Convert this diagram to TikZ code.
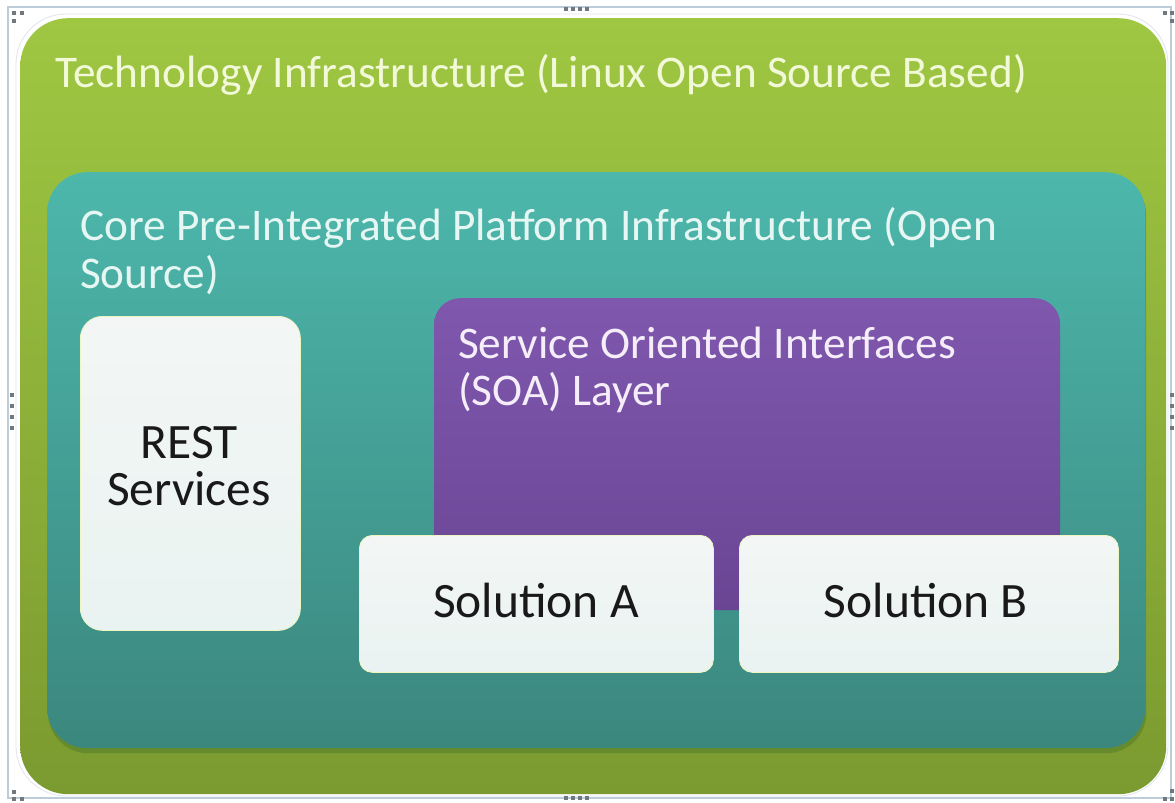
\documentclass[tikz,border=0pt]{standalone}
\usepackage{fontspec}
\setmainfont{Carlito}
\usetikzlibrary{shadows}
\definecolor{frameline}{HTML}{BCCCD8}
\definecolor{greentop}{HTML}{9FC742}
\definecolor{greenbot}{HTML}{7B9A30}
\definecolor{tealtop}{HTML}{4DB7AC}
\definecolor{tealbot}{HTML}{3B877E}
\definecolor{purptop}{HTML}{7F58AE}
\definecolor{purpbot}{HTML}{6A4594}
\definecolor{boxtop}{HTML}{F3F6F5}
\definecolor{boxbot}{HTML}{E9F3F1}
\definecolor{titlecol}{HTML}{F2F9D8}
\definecolor{corecol}{HTML}{E6F7F3}
\definecolor{soacol}{HTML}{F5EEF9}
\definecolor{dotcol}{HTML}{707880}
\definecolor{tealshadow}{HTML}{4E7A2A}
\tikzset{
  panel/.style={rectangle, draw=none, anchor=north west, inner sep=0pt},
  whitebox/.style={panel, top color=boxtop, bottom color=boxbot, draw=boxbot!80!yellow, line width=0.8bp},
  bigtext/.style={anchor=base west, inner sep=0pt, font=\fontsize{45.3bp}{47bp}\selectfont},
  boxtext/.style={inner sep=0pt, align=center, text=black!90, font=\fontsize{49.5bp}{47bp}\selectfont},
  handle/.style={fill=dotcol, draw=none, minimum size=3.2bp, inner sep=0pt, rectangle},
}
\begin{document}
\begin{tikzpicture}[x=1bp,y=-1bp]
\useasboundingbox (0,0) rectangle (1175,803);
\fill[white] (0,0) rectangle (1175,803);
% selection frame
\draw[frameline, line width=1.2bp, fill=white] (8,7) rectangle (1171,798);
\draw[frameline!50, line width=0.8bp, rounded corners=50bp] (16,14) rectangle (1168,796);
% outer green
\node[panel, rounded corners=48bp, top color=greentop, bottom color=greenbot,
      minimum width=1146bp, minimum height=776bp] (outer) at (20,18) {};
% teal shadow
\node[panel, rounded corners=40bp, fill=tealshadow, opacity=0.5,
      minimum width=1098bp, minimum height=578bp] (tealsh) at (48,175) {};
% teal panel
\node[panel, rounded corners=40bp, top color=tealtop, bottom color=tealbot,
      minimum width=1098bp, minimum height=576bp] (core) at (47,172) {};
% purple SOA panel
\node[panel, rounded corners=26bp, top color=purptop, bottom color=purpbot,
      minimum width=626bp, minimum height=312bp] (soa) at (434,298) {};
% REST box
\node[whitebox, rounded corners=22bp, minimum width=220bp, minimum height=314bp] (rest) at (80,316) {};
% Solution boxes
\node[whitebox, rounded corners=13bp, minimum width=354bp, minimum height=137bp] (solA) at (359,535) {};
\node[whitebox, rounded corners=13bp, minimum width=379bp, minimum height=137bp] (solB) at (739,535) {};
% texts
\node[bigtext, text=titlecol] (titletext) at (55,88) {Technology Infrastructure (Linux Open Source Based)};
\node[bigtext, text=corecol] (coretext1) at (80,240) {Core Pre-Integrated Platform Infrastructure (Open};
\node[bigtext, text=corecol] (coretext2) at (80,288) {Source)};
\node[bigtext, text=soacol] (soatext1) at (458,358) {Service Oriented Interfaces};
\node[bigtext, text=soacol] (soatext2) at (458,405) {(SOA) Layer};
\node[boxtext, anchor=base] (resttext) at (189,505) {REST\\Services};
\node[boxtext, anchor=base] (solAtext) at (536,617) {Solution A};
\node[boxtext, anchor=base] (solBtext) at (926,617) {Solution B};
% handles
\foreach \p [count=\i] in {(14,13),(22,13),(14,21),(1165,13),(1172,13),(1172,21),(14,792),(14,799),(22,799),(1165,799),(1172,799),(1172,791),(566,9),(573,9),(580,9),(587,9),(566,798),(573,798),(580,798),(587,798),(12,395),(12,406),(12,417),(12,428),(1172,395),(1172,406),(1172,417),(1172,428)}
  \node[handle] (h\i) at \p {};
\end{tikzpicture}
\end{document}
